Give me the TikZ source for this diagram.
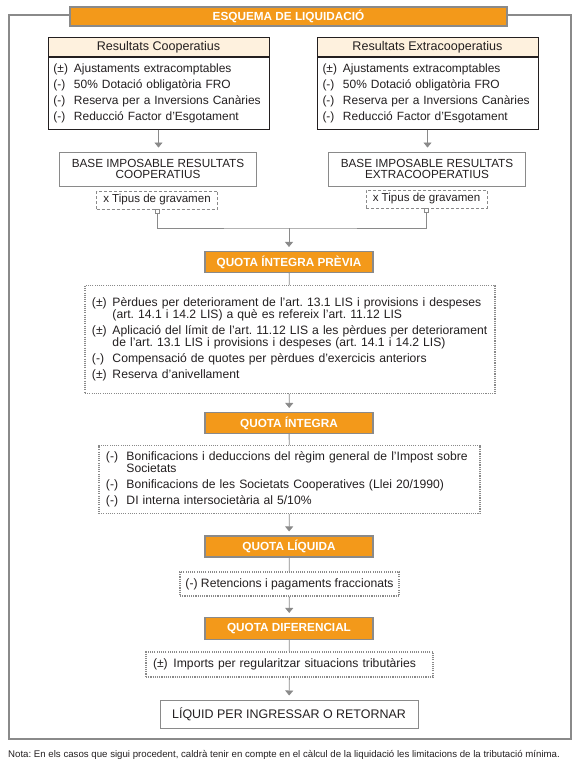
\documentclass[tikz,border=0pt]{standalone}
\usepackage{fontspec}
\setmainfont{Liberation Sans}
\usetikzlibrary{arrows.meta,positioning}

\definecolor{taronja}{RGB}{243,153,26}
\definecolor{crema}{RGB}{254,241,222}
\definecolor{gris}{RGB}{138,138,138}
\definecolor{tinta}{RGB}{35,31,32}

% item with hanging marker
\newcommand{\itm}[2]{\hangindent=20.5bp\hangafter=1\noindent\makebox[20.5bp][l]{#1}#2\par}

\tikzset{
  quota/.style={draw=gris, line width=1.1bp, fill=taronja, text=white,
    font=\fontsize{11.8}{12}\selectfont\bfseries,
    minimum width=168bp, minimum height=21bp, inner sep=0pt},
  capcal/.style={draw=tinta, line width=0.8bp, fill=crema, text=tinta,
    font=\fontsize{12.6}{12.6}\selectfont, minimum width=221bp, minimum height=19bp, inner sep=0pt},
  cos/.style={draw=tinta, line width=0.8bp, text=tinta, align=left,
    font=\fontsize{12}{11.6}\selectfont,
    text width=210bp, inner xsep=5.5bp, minimum height=72bp,
    execute at begin node={\setlength{\parskip}{4.6bp}}},
  base/.style={draw=gris, line width=0.9bp, text=tinta, align=center,
    font=\fontsize{11.8}{11.5}\selectfont,
    minimum width=197bp, minimum height=34bp, inner sep=0pt},
  tipus/.style={draw=gris, line width=0.8bp, dash pattern=on 3bp off 2bp, text=tinta,
    font=\fontsize{11.6}{11.5}\selectfont,
    minimum width=121bp, minimum height=18bp, inner sep=0pt},
  sqr/.style={draw=gris, fill=white, line width=0.7bp, minimum size=4bp, inner sep=0pt},
  llista/.style={draw=gris, line width=1.1bp, dash pattern=on 1.1bp off 1.1bp, text=tinta,
    align=left, inner xsep=7bp,
    execute at begin node={\setlength{\parskip}{4.6bp}}},
  fletxa/.style={draw=gris, line width=0.8bp, -{Triangle[width=8bp,length=5bp]}, shorten >=4bp},
  linia/.style={draw=gris, line width=0.8bp}
}

\begin{document}
\frenchspacing
\begin{tikzpicture}[x=1bp, y=-1bp, font=\fontsize{12.2}{11.6}\selectfont]
  \useasboundingbox (0,0) rectangle (582,778);
  % outer frame and title
  \draw[gris, line width=2bp] (9,15) rectangle (571,739);
  \node[quota, minimum width=437bp, minimum height=19bp] (titol) at (288.5,16.5) {ESQUEMA DE LIQUIDACIÓ};

  % results
  \node[capcal, anchor=north] (capL) at (158.5,37) {Resultats Cooperatius};
  \node[cos, below=0pt of capL] (cosL) {%
    \itm{(±)}{Ajustaments extracomptables}
    \itm{(-)}{50\% Dotació obligatòria FRO}
    \itm{(-)}{Reserva per a Inversions Canàries}
    \itm{(-)}{Reducció Factor d’Esgotament}};
  \node[capcal, anchor=north] (capR) at (427.5,37) {Resultats Extracooperatius};
  \node[cos, below=0pt of capR] (cosR) {%
    \itm{(±)}{Ajustaments extracomptables}
    \itm{(-)}{50\% Dotació obligatòria FRO}
    \itm{(-)}{Reserva per a Inversions Canàries}
    \itm{(-)}{Reducció Factor d’Esgotament}};

  % tax bases
  \node[base] (baseL) at (158,169) {BASE IMPOSABLE RESULTATS\\COOPERATIUS};
  \node[base] (baseR) at (427,169) {BASE IMPOSABLE RESULTATS\\EXTRACOOPERATIUS};
  \node[tipus] (tipL) at (157,200) {x Tipus de gravamen};
  \node[tipus] (tipR) at (426.5,199) {x Tipus de gravamen};
  \node[sqr, anchor=north] (sqL) at (tipL.south) {};
  \node[sqr, anchor=north] (sqR) at (tipR.south) {};
  \coordinate (mrg) at (289,228);

  % quotes
  \node[quota] (qip) at (289,262) {QUOTA ÍNTEGRA PRÈVIA};
  \node[llista, text width=396bp, minimum height=108bp, anchor=north] (ll1) at (290,285) {%
    \itm{(±)}{Pèrdues per deteriorament de l’art. 13.1 LIS i provisions i despeses\newline (art. 14.1 i 14.2 LIS) a què es refereix l’art. 11.12 LIS}
    \itm{(±)}{Aplicació del límit de l’art. 11.12 LIS a les pèrdues per deteriorament\newline de l’art. 13.1 LIS i provisions i despeses (art. 14.1 i 14.2 LIS)}
    \itm{(-)}{Compensació de quotes per pèrdues d’exercicis anteriors}
    \itm{(±)}{Reserva d’anivellament}};
  \node[quota] (qi) at (289,423) {QUOTA ÍNTEGRA};
  \node[llista, text width=367bp, minimum height=68bp, anchor=north] (ll2) at (289.5,445) {%
    \itm{(-)}{Bonificacions i deduccions del règim general de l’Impost sobre\newline Societats}
    \itm{(-)}{Bonificacions de les Societats Cooperatives (Llei 20/1990)}
    \itm{(-)}{DI interna intersocietària al 5/10\%}};
  \node[quota] (ql) at (289,546.5) {QUOTA LÍQUIDA};
  \node[llista, minimum width=219bp, minimum height=24bp, inner sep=0pt] (ll3) at (289.5,584) {(-) Retencions i pagaments fraccionats};
  \node[quota, minimum height=22bp] (qd) at (289,628.5) {QUOTA DIFERENCIAL};
  \node[llista, text width=273bp, minimum height=25bp] (ll4) at (289.5,664.5) {%
    \itm{(±)}{Imports per regularitzar situacions tributàries}};
  \node[base, minimum width=258bp, minimum height=28bp, line width=1bp, font=\fontsize{12.5}{12.5}\selectfont] (liq) at (289,714) {LÍQUID PER INGRESSAR O RETORNAR};

  % connectors
  \draw[fletxa] (cosL.south) -- (cosL.south |- baseL.north);
  \draw[fletxa] (cosR.south) -- (cosR.south |- baseR.north);
  \draw[linia] (sqL.south) |- (mrg) -| (sqR.south);
  \draw[fletxa] (mrg) -- (qip.north);
  \draw[linia] (qip) -- (ll1);
  \draw[fletxa] (ll1) -- (qi);
  \draw[linia] (qi) -- (ll2);
  \draw[fletxa] (ll2) -- (ql);
  \draw[linia] (ql) -- (ll3);
  \draw[fletxa] (ll3) -- (qd);
  \draw[linia] (qd) -- (ll4);
  \draw[fletxa] (ll4) -- (liq);

  % note
  \node[anchor=base west, inner sep=0pt, text=tinta, font=\fontsize{9.7}{10}\selectfont] (nota) at (8,757) {Nota: En els casos que sigui procedent, caldrà tenir en compte en el càlcul de la liquidació les limitacions de la tributació mínima.};
\end{tikzpicture}
\end{document}
